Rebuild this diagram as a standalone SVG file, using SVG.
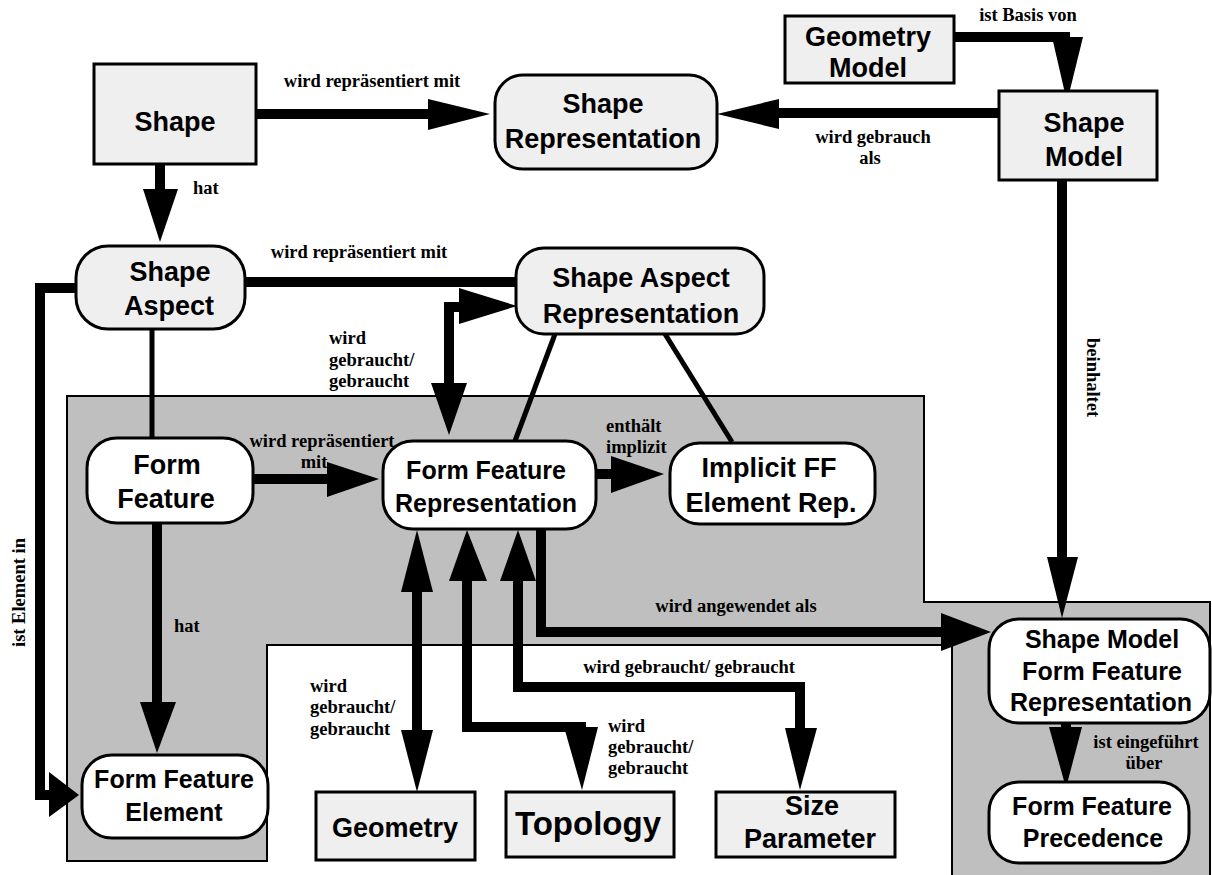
<svg xmlns="http://www.w3.org/2000/svg" width="1212" height="875" viewBox="0 0 1212 875">
<style>
.bg{fill:#bfbfbf;stroke:#000;stroke-width:2}
.n{stroke:#000;stroke-width:3}
.g{fill:#efefef}
.w{fill:#ffffff}
.t{font-family:"Liberation Sans",Arial,sans-serif;font-weight:bold;text-anchor:middle;fill:#000}
.f27{font-size:27px}
.f25{font-size:25px}
.f33{font-size:33px}
.l{font-family:"Liberation Serif","Times New Roman",serif;font-weight:bold;font-size:18.5px;fill:#000}
.m{text-anchor:middle}
.c{fill:none;stroke:#000;stroke-width:10;stroke-linejoin:miter}
.s{fill:none;stroke:#000;stroke-width:5}
.h{fill:#000}
</style>
<rect width="1212" height="875" fill="#fff"/>
<polygon class="bg" points="67,396 924,396 924,602 1210,602 1210,880 952,880 952,645 267,645 267,861 67,861"/>

<g id="connectors">
  <!-- Shape -> Shape Representation -->
  <path class="c" d="M256,114 H430"/>
  <polygon class="h" points="428,99 428,130 490,114"/>
  <!-- Shape -> Shape Aspect -->
  <path class="c" d="M160,164 V191"/>
  <polygon class="h" points="143,189 178,189 160,242"/>
  <!-- Shape Model -> Shape Representation -->
  <path class="c" d="M999,113 H777"/>
  <polygon class="h" points="779,99 779,129 717,114"/>
  <!-- Geometry Model -> Shape Model -->
  <path class="c" d="M954,37 H1070"/>
  <polygon class="h" points="1052,37 1083,37 1067,102"/>
  <!-- Shape Model -> SMFFR -->
  <path class="c" d="M1062,180 V559"/>
  <polygon class="h" points="1047,557 1078,557 1062,618"/>
  <!-- Shape Aspect -> SAR -->
  <path class="c" d="M245,282 H517"/>
  <!-- Shape Aspect -> FFE (ist Element in) -->
  <path class="c" d="M76,288 H40 V795 H51"/>
  <polygon class="h" points="49,772 49,817 79,795"/>
  <!-- Shape Aspect - Form Feature -->
  <path class="s" d="M152,329 V440"/>
  <!-- SAR <-> FFR -->
  <path class="c" d="M449,385 V307 H461"/>
  <polygon class="h" points="459,288 459,324 517,306"/>
  <polygon class="h" points="431,383 467,383 449,435"/>
  <!-- SAR - FFR, SAR - Implicit -->
  <path class="s" d="M555,334 L515,441"/>
  <path class="s" d="M665,334 L732,442"/>
  <!-- Form Feature -> FFR -->
  <path class="c" d="M253,479 H329"/>
  <polygon class="h" points="327,462 327,497 379,479"/>
  <!-- Form Feature -> FFE -->
  <path class="c" d="M157,523 V704"/>
  <polygon class="h" points="140,702 176,702 157,753"/>
  <!-- FFR -> Implicit -->
  <path class="c" d="M596,474 H613"/>
  <polygon class="h" points="611,456 611,493 664,474"/>
  <!-- FFR -> SMFFR -->
  <path class="c" d="M541,529 V632 H943"/>
  <polygon class="h" points="941,613 941,651 991,632"/>
  <!-- FFR <-> Geometry -->
  <path class="c" d="M417,590 V732"/>
  <polygon class="h" points="401,592 433,592 417,530"/>
  <polygon class="h" points="401,730 433,730 417,792"/>
  <!-- FFR <-> Topology -->
  <path class="c" d="M467,579 V727 H586"/>
  <polygon class="h" points="449,581 487,581 467,530"/>
  <polygon class="h" points="564,727 598,727 582,790"/>
  <!-- FFR <-> Size Parameter -->
  <path class="c" d="M518,579 V687 H800 V730"/>
  <polygon class="h" points="500,581 536,581 518,530"/>
  <polygon class="h" points="785,728 817,728 800,790"/>
  <!-- SMFFR -> FFP -->
  <path class="c" d="M1066,722 V729"/>
  <polygon class="h" points="1049,727 1082,727 1066,788"/>
</g>

<g id="shape">
  <rect class="n g" x="94" y="64" width="162" height="100"/>
  <text class="t f27" x="175" y="131">Shape</text>
</g>
<g id="shape-representation">
  <rect class="n g" x="495" y="75" width="222" height="94" rx="28"/>
  <text class="t f27" x="603" y="113">Shape</text>
  <text class="t f27" x="603" y="148">Representation</text>
</g>
<g id="geometry-model">
  <rect class="n g" x="785" y="16" width="169" height="67"/>
  <text class="t f27" x="868" y="46">Geometry</text>
  <text class="t f27" x="868" y="77">Model</text>
</g>
<g id="shape-model">
  <rect class="n g" x="999" y="91" width="158" height="89"/>
  <text class="t f27" x="1084" y="132">Shape</text>
  <text class="t f27" x="1084" y="166">Model</text>
</g>
<g id="shape-aspect">
  <rect class="n g" x="76" y="246" width="169" height="83" rx="32"/>
  <text class="t f27" x="170" y="281">Shape</text>
  <text class="t f27" x="169" y="315">Aspect</text>
</g>
<g id="shape-aspect-representation">
  <rect class="n g" x="516" y="248" width="248" height="86" rx="28"/>
  <text class="t f27" x="641" y="287">Shape Aspect</text>
  <text class="t f27" x="641" y="323">Representation</text>
</g>
<g id="form-feature">
  <rect class="n w" x="87" y="438" width="166" height="85" rx="30"/>
  <text class="t f27" x="167" y="474">Form</text>
  <text class="t f27" x="166" y="508">Feature</text>
</g>
<g id="form-feature-representation">
  <rect class="n w" x="383" y="441" width="213" height="88" rx="30"/>
  <text class="t f25" x="486" y="479">Form Feature</text>
  <text class="t f25" x="486" y="512">Representation</text>
</g>
<g id="implicit-ff-element-rep">
  <rect class="n w" x="670" y="443" width="205" height="81" rx="30"/>
  <text class="t f27" x="769" y="477">Implicit FF</text>
  <text class="t f27" x="771" y="512">Element Rep.</text>
</g>
<g id="form-feature-element">
  <rect class="n w" x="82" y="755" width="186" height="83" rx="30"/>
  <text class="t f25" x="174" y="788">Form Feature</text>
  <text class="t f25" x="174" y="821">Element</text>
</g>
<g id="geometry">
  <rect class="n g" x="316" y="792" width="159" height="68"/>
  <text class="t f27" x="395" y="837">Geometry</text>
</g>
<g id="topology">
  <rect class="n g" x="506" y="792" width="168" height="65"/>
  <text class="t f33" x="588" y="835">Topology</text>
</g>
<g id="size-parameter">
  <rect class="n g" x="716" y="792" width="179" height="65"/>
  <text class="t f27" x="812" y="815">Size</text>
  <text class="t f27" x="810" y="848">Parameter</text>
</g>
<g id="shape-model-ff-representation">
  <rect class="n w" x="989" y="619" width="221" height="104" rx="30"/>
  <text class="t f25" x="1102" y="648">Shape Model</text>
  <text class="t f25" x="1102" y="680">Form Feature</text>
  <text class="t f25" x="1101" y="711">Representation</text>
</g>
<g id="form-feature-precedence">
  <rect class="n w" x="989" y="782" width="200" height="81" rx="30"/>
  <text class="t f25" x="1092" y="815">Form Feature</text>
  <text class="t f25" x="1093" y="847">Precedence</text>
</g>

<g id="labels">
  <text class="l m" x="372" y="87">wird repräsentiert mit</text>
  <text class="l" x="193" y="194">hat</text>
  <text class="l m" x="359" y="258">wird repräsentiert mit</text>
  <text class="l" x="329" y="344">wird</text>
  <text class="l" x="329" y="366">gebraucht/</text>
  <text class="l" x="329" y="387">gebraucht</text>
  <text class="l m" x="1028" y="21">ist Basis von</text>
  <text class="l m" x="873" y="143">wird gebrauch</text>
  <text class="l m" x="870" y="164">als</text>
  <text class="l" transform="translate(1087,338) rotate(90)">beinhaltet</text>
  <text class="l" transform="translate(25,647) rotate(-90)">ist Element in</text>
  <text class="l m" x="322" y="447">wird repräsentiert</text>
  <text class="l m" x="314" y="468">mit</text>
  <text class="l" x="174" y="632">hat</text>
  <text class="l" x="606" y="432">enthält</text>
  <text class="l" x="606" y="453">implizit</text>
  <text class="l m" x="736" y="612">wird angewendet als</text>
  <text class="l m" x="689" y="673">wird gebraucht/ gebraucht</text>
  <text class="l" x="310" y="692">wird</text>
  <text class="l" x="310" y="713">gebraucht/</text>
  <text class="l" x="310" y="735">gebraucht</text>
  <text class="l" x="608" y="732">wird</text>
  <text class="l" x="608" y="753">gebraucht/</text>
  <text class="l" x="608" y="774">gebraucht</text>
  <text class="l m" x="1146" y="748">ist eingeführt</text>
  <text class="l m" x="1144" y="769">über</text>
</g>
</svg>
